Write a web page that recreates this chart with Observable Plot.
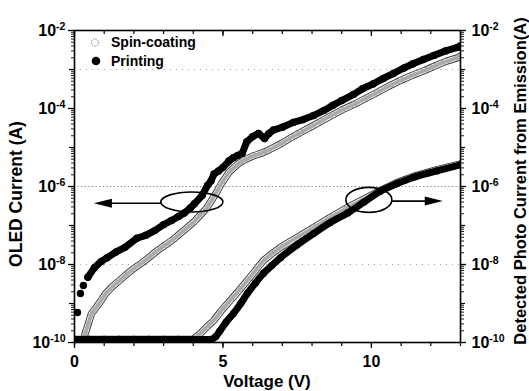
<!DOCTYPE html>
<html><head><meta charset="utf-8">
<script src="https://cdn.jsdelivr.net/npm/d3@7"></script>
<script src="https://cdn.jsdelivr.net/npm/@observablehq/plot@0.6"></script>
<style>
html,body{margin:0;padding:0;background:#fff;}
#chart{width:529px;height:391px;overflow:hidden;}
</style></head><body><div id="chart"></div>
<script>
// ---- OLED current (left axis) ----
const spinV = [0.35,0.45,0.57,0.75,0.9,1.05,1.25,1.5,1.7,2.0,2.25,2.5,2.8,3.1,3.37,3.6,3.8,4.05,4.28,4.45,4.6,4.8,4.95,5.2,5.49,5.7,6.0,6.3,6.5,7.0,7.3,7.6,8.0,8.3,8.7,9.0,9.4,9.86,10.2,10.6,10.97,11.4,11.8,12.1,12.5,12.9,13.0];
const spinI = [1.6e-10,2.8e-10,5.5e-10,8.3e-10,1.2e-9,1.8e-9,2.6e-9,3.8e-9,5.2e-9,7.9e-9,1.07e-8,1.5e-8,2.3e-8,3.3e-8,4.7e-8,6.6e-8,8.9e-8,1.3e-7,2.0e-7,2.8e-7,4.2e-7,7.4e-7,1.2e-6,2.3e-6,3.7e-6,4.7e-6,6.0e-6,7.2e-6,8.3e-6,1.3e-5,1.8e-5,2.4e-5,3.5e-5,4.7e-5,6.9e-5,9.1e-5,1.26e-4,1.9e-4,2.6e-4,3.8e-4,5.2e-4,7.2e-4,9.5e-4,1.2e-3,1.6e-3,2.0e-3,2.2e-3];
const printV = [0.1,0.2,0.3,0.45,0.67,0.9,1.1,1.4,1.7,2.1,2.4,2.7,3.0,3.27,3.5,3.7,3.9,4.04,4.3,4.48,4.6,4.7,4.85,5.0,5.2,5.35,5.5,5.65,5.8,6.0,6.2,6.4,6.55,6.7,7.0,7.37,7.7,8.05,8.4,8.7,9.0,9.4,9.7,10.07,10.4,10.74,11.1,11.4,11.75,12.1,12.5,12.9,13.0];
const printI = [5.9e-10,1.8e-9,2.9e-9,4.7e-9,8.3e-9,1.2e-8,1.5e-8,2.1e-8,2.75e-8,4.7e-8,5.6e-8,7.4e-8,1.05e-7,1.35e-7,1.7e-7,2.1e-7,2.8e-7,3.6e-7,5.9e-7,1.07e-6,1.4e-6,2.1e-6,2.5e-6,3.1e-6,4.5e-6,5.5e-6,6.3e-6,7.1e-6,1.4e-5,1.9e-5,2.3e-5,1.7e-5,2.3e-5,2.8e-5,3.3e-5,4.4e-5,5.2e-5,6.6e-5,8.9e-5,1.2e-4,1.6e-4,2.3e-4,3.2e-4,4.3e-4,5.9e-4,7.9e-4,1.1e-3,1.4e-3,1.8e-3,2.3e-3,3.0e-3,3.7e-3,4.0e-3];

// ---- Detected photo current (right axis) ----
const spinPhotoV = [0,0.5,1,1.5,2,2.5,3,3.5,4.0,4.1,4.24,4.45,4.68,4.95,5.25,5.55,5.82,6.1,6.36,6.65,6.94,7.5,8.05,8.6,9.2,9.75,10.3,10.85,11.4,12.2,13.0];
const spinPhotoI = [1.2e-10,1.2e-10,1.2e-10,1.2e-10,1.2e-10,1.2e-10,1.2e-10,1.2e-10,1.2e-10,1.4e-10,1.7e-10,2.5e-10,3.6e-10,6.6e-10,1.2e-9,2.2e-9,3.9e-9,7.1e-9,1.26e-8,1.9e-8,2.75e-8,5.0e-8,8.9e-8,1.6e-7,2.9e-7,4.8e-7,7.9e-7,1.25e-6,1.8e-6,2.7e-6,3.8e-6];
const printPhotoV = [0,0.5,1,1.5,2,2.5,3,3.5,4,4.3,4.58,4.75,4.9,5.1,5.35,5.6,5.82,6.1,6.36,6.65,6.94,7.5,8.05,8.6,9.2,9.75,10.3,10.85,11.4,12.2,13.0];
const printPhotoI = [1.2e-10,1.2e-10,1.2e-10,1.2e-10,1.2e-10,1.2e-10,1.2e-10,1.2e-10,1.2e-10,1.2e-10,1.2e-10,1.4e-10,2.0e-10,3.3e-10,5.5e-10,1.0e-9,1.8e-9,3.4e-9,5.9e-9,9.5e-9,1.5e-8,3.2e-8,6.2e-8,1.17e-7,2.1e-7,4.0e-7,7.6e-7,1.17e-6,1.7e-6,2.5e-6,3.6e-6];

// ---- axes / texts ----
const xAllTicks = [0,1,2,3,4,5,6,7,8,9,10,11,12,13];
const xMajorTicks = [0,5,10];
const yLabelTicks = [1e-2,1e-4,1e-6,1e-8,1e-10];
const yOddTicks = [1e-3,1e-5,1e-7,1e-9];
const gridDense = [1e-6];
const gridSparse = [1e-3,1e-8];
const legendLabels = ["Spin-coating","Printing"];
const xTitle = "Voltage (V)";
const yTitle = "OLED Current (A)";
const y2Title = "Detected Photo Current from Emission(A)";

// ---- annotations (data units) ----
const ellipseV = [3.97, 9.93];
const ellipseI = [3.9e-7, 4.4e-7];
const arrowFromV = [2.93, 10.71];
const arrowToV = [0.67, 12.42];
const arrowI = [3.6e-7, 4.1e-7];

const rows = (V, I) => V.map((v, k) => ({v, i: I[k]}));
const spin = rows(spinV, spinI);
const print = rows(printV, printI);
const spinPhoto = rows(spinPhotoV, spinPhotoI);
const printPhoto = rows(printPhotoV, printPhotoI);

const W = 529, H = 391, mL = 74, mR = 69, mT = 30, mB = 49;
const isDecade = t => Math.abs(Math.log10(t) - Math.round(Math.log10(t))) < 1e-9;
const minorY = d3.scaleLog().domain([1e-10, 1e-2]).ticks(20).filter(t => !isDecade(t));
const supFmt = d => "10^" + Math.round(Math.log10(d));
const blank = () => "";

function getScales(scales) {
  const x = scales && typeof scales.x === "function" ? scales.x : d3.scaleLinear([0, 13], [mL, W - mR]);
  const y = scales && typeof scales.y === "function" ? scales.y : d3.scaleLog([1e-10, 1e-2], [H - mB, mT]);
  return {x, y};
}

function openBand(data) {
  return [
    Plot.line(data, {x: "v", y: "i", stroke: "#333", strokeWidth: 7.2, strokeLinecap: "round", strokeLinejoin: "round", clip: true}),
    Plot.line(data, {x: "v", y: "i", stroke: "#fff", strokeWidth: 5.4, strokeLinecap: "round", strokeLinejoin: "round", clip: true}),
    Plot.dot(data, {x: "v", y: "i", r: 3.2, stroke: "#777", strokeWidth: 0.8, fill: "none", strokeDasharray: "1.5,1", clip: true}),
    Plot.line(data, {x: "v", y: "i", stroke: "#aaa", strokeWidth: 4, strokeDasharray: "1,2.2", clip: true})
  ];
}

function annotations(index, scales) {
  const {x, y} = getScales(scales);
  const g = d3.create("svg:g").attr("fill", "none").attr("stroke", "#000").attr("stroke-width", 1.6);
  const radii = [[31, 10], [23, 12.5]];
  ellipseV.forEach((v, k) => {
    g.append("ellipse").attr("cx", x(v)).attr("cy", y(ellipseI[k])).attr("rx", radii[k][0]).attr("ry", radii[k][1]);
  });
  arrowFromV.forEach((v, k) => {
    const x1 = x(v), x2 = x(arrowToV[k]), yy = y(arrowI[k]), dir = Math.sign(x2 - x1);
    g.append("line").attr("x1", x1).attr("x2", x2 - dir * 14).attr("y1", yy).attr("y2", yy);
    g.append("path").attr("d", `M${x2},${yy}L${x2 - dir * 18},${yy - 4.5}L${x2 - dir * 18},${yy + 4.5}Z`)
      .attr("fill", "#000").attr("stroke", "none");
  });
  return g.node();
}

function legend(index, scales, values, dimensions) {
  const left = dimensions.marginLeft, top = dimensions.marginTop;
  const g = d3.create("svg:g");
  const rowsY = [top + 12.5, top + 31];
  g.append("circle").attr("cx", left + 21).attr("cy", rowsY[0]).attr("r", 3.6)
    .attr("fill", "#fff").attr("stroke", "#666").attr("stroke-width", 1).attr("stroke-dasharray", "1.2,1.2");
  g.append("circle").attr("cx", left + 22).attr("cy", rowsY[1]).attr("r", 4.3).attr("fill", "#000");
  legendLabels.forEach((t, k) => {
    g.append("text").attr("x", left + 37).attr("y", rowsY[k]).attr("dy", "0.35em")
      .attr("text-anchor", "start").attr("font-size", 14).attr("font-weight", "bold").attr("fill", "#000").text(t);
  });
  return g.node();
}

function titles(index, scales, values, dimensions) {
  const g = d3.create("svg:g").attr("fill", "#000").attr("font-weight", "bold").attr("text-anchor", "middle");
  const fl = dimensions.marginLeft, fr = dimensions.width - dimensions.marginRight;
  const fb = dimensions.height - dimensions.marginBottom;
  g.append("text").attr("x", (fl + fr) / 2).attr("y", fb + 45).attr("font-size", 17).text(xTitle);
  g.append("text").attr("transform", `translate(${fl - 58},194) rotate(-90)`).attr("dy", "0.35em").attr("font-size", 17.5).text(yTitle);
  g.append("text").attr("transform", `translate(${fr + 60},181) rotate(-90)`).attr("dy", "0.35em").attr("font-size", 16.5).text(y2Title);
  return g.node();
}

const chart = Plot.plot({
  width: W, height: H,
  marginLeft: mL, marginRight: mR, marginTop: mT, marginBottom: mB,
  style: {fontFamily: "'Liberation Sans', Arial, sans-serif", fontWeight: "bold", background: "#fff", color: "#000"},
  x: {domain: [0, 13]},
  y: {type: "log", domain: [1e-10, 1e-2]},
  marks: [
    Plot.ruleY(gridSparse, {stroke: "#999", strokeWidth: 0.9, strokeDasharray: "1,5"}),
    Plot.ruleY(gridDense, {stroke: "#777", strokeWidth: 1, strokeDasharray: "1.2,2.4"}),
    ...openBand(spin),
    ...openBand(spinPhoto),
    Plot.line(print.filter(d => d.v >= 0.4), {x: "v", y: "i", stroke: "#000", strokeWidth: 7, strokeLinejoin: "round", strokeLinecap: "round", clip: true}),
    Plot.dot(print, {x: "v", y: "i", r: 3.7, fill: "#000", clip: true}),
    Plot.line(printPhoto, {x: "v", y: "i", stroke: "#000", strokeWidth: 7, strokeLinejoin: "round", strokeLinecap: "round", curve: "monotone-x", clip: true}),
    Plot.dot(printPhoto, {x: "v", y: "i", r: 3.6, fill: "#000", clip: true}),
    annotations,
    legend,
    Plot.frame({stroke: "#000", strokeWidth: 1.6}),
    // left axis
    Plot.axisY(yLabelTicks, {anchor: "left", tickSize: 6, tickPadding: 3, tickFormat: supFmt, fontSize: 16, label: null, strokeWidth: 1.3}),
    Plot.axisY(yOddTicks, {anchor: "left", tickSize: 5, tickFormat: blank, label: null, strokeWidth: 1.2}),
    Plot.axisY(minorY, {anchor: "left", tickSize: 3, tickFormat: blank, label: null, strokeWidth: 0.9}),
    // right axis
    Plot.axisY(yLabelTicks, {anchor: "right", tickSize: 5, tickPadding: 6, tickFormat: supFmt, fontSize: 16, label: null, strokeWidth: 1.3}),
    Plot.axisY(yOddTicks, {anchor: "right", tickSize: 4, tickFormat: blank, label: null, strokeWidth: 1.2}),
    Plot.axisY(minorY, {anchor: "right", tickSize: 3, tickFormat: blank, label: null, strokeWidth: 0.9}),
    // bottom axis
    Plot.axisX(xMajorTicks, {anchor: "bottom", tickSize: 6, tickPadding: 7, tickFormat: d => String(d), fontSize: 16, label: null, strokeWidth: 1.3}),
    Plot.axisX(xAllTicks, {anchor: "bottom", tickSize: 4, tickFormat: blank, label: null, strokeWidth: 1.2}),
    // top (inward) ticks
    Plot.ruleX(xAllTicks, {stroke: "#000", strokeWidth: 1.2, insetBottom: H - mT - mB - 4}),
    Plot.ruleX(xMajorTicks, {stroke: "#000", strokeWidth: 1.3, insetBottom: H - mT - mB - 6}),
    titles
  ]
});

// superscript exponents in tick labels
const NS = "http://www.w3.org/2000/svg";
chart.querySelectorAll("text").forEach(t => {
  const m = /^10\^(-?\d+)$/.exec(t.textContent);
  if (m) {
    t.textContent = "10";
    const s = document.createElementNS(NS, "tspan");
    s.setAttribute("dy", "-0.55em");
    s.setAttribute("font-size", "0.66em");
    s.textContent = m[1];
    t.appendChild(s);
  }
});
document.getElementById("chart").appendChild(chart);
</script>
</body></html>
